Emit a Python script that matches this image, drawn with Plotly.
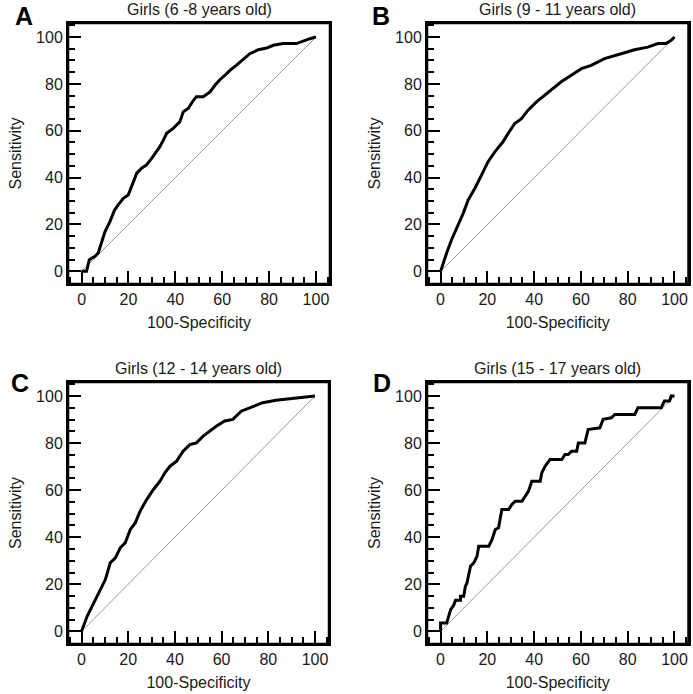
import plotly.graph_objects as go

# ---- data ----
titles = ["Girls (6 -8 years old)", "Girls (9 - 11 years old)",
          "Girls (12 - 14 years old)", "Girls (15 - 17 years old)"]
letters = ["A", "B", "C", "D"]
tick_vals = [0, 20, 40, 60, 80, 100]
tick_text = ["0", "20", "40", "60", "80", "100"]
diag = [0, 100]

fpr_a = [0, 2.1, 3.3, 5.7, 7.1, 8.5, 10, 12, 14, 15.6, 17.8, 19.9, 21.3, 23.5, 25.6, 27.7, 29.9, 32,
         33.4, 34.9, 36.3, 39.1, 41.9, 43.4, 45.5, 47.7, 49, 51.9, 54.8, 56.9, 59, 61.2, 63.3, 66.1,
         69, 71.8, 75.4, 79, 81.8, 86, 91.7, 94.6, 97.4, 100]
tpr_a = [0, 0, 5, 6.4, 7.8, 12, 17, 21, 26, 28.4, 31.2, 32.6, 36.2, 41.8, 44, 45.4, 48.2, 51,
         53.2, 56, 58.9, 61, 63.8, 68.1, 69.5, 73, 74.5, 74.5, 76.6, 79.4, 81.8, 83.7, 85.8, 88,
         90.4, 92.9, 94.6, 95.3, 96.5, 97.2, 97.2, 98.3, 99.3, 100]

fpr_b = [0, 1.1, 2.6, 4.7, 7.5, 9.7, 11.8, 14.7, 17.5, 20.3, 23.2, 26.7, 28.9, 31.7, 34.6, 37.4,
         41, 44.5, 48.1, 51.6, 55.9, 60.2, 64.4, 70.1, 77.2, 82.9, 88.6, 92.9, 96.4, 98.6, 100]
tpr_b = [0, 3.5, 7.8, 13.5, 19.9, 24.8, 30.5, 35.5, 41.1, 46.8, 51, 55.3, 58.9, 63.1, 65.2, 68.8,
         72.3, 75.2, 78, 80.9, 83.7, 86.5, 87.9, 90.8, 92.9, 94.6, 95.7, 97.2, 97.2, 98.6, 100]

fpr_c = [0, 0.7, 2.4, 4.5, 7.4, 10.2, 12.3, 14.5, 16.6, 18.7, 20.9, 23, 25.1, 27.9, 30.8, 33.6,
         35.7, 37.9, 40.7, 43.5, 46.4, 49.2, 52.1, 54.9, 57.7, 61.3, 64.8, 68.4, 73.3, 77.6, 83.3,
         90.4, 96, 100]
tpr_c = [0, 2.1, 6.4, 10.6, 16.3, 22, 29.1, 31.2, 35.5, 37.6, 43.3, 46.1, 51.1, 56, 60.3, 63.8,
         67.4, 70.2, 72.3, 76.6, 79.4, 80.1, 83, 85.1, 87.2, 89.4, 90.1, 93.6, 95.7, 97.2, 98.2,
         98.9, 99.3, 100]

fpr_d = [0, 0, 2.6, 4.3, 5.7, 6.4, 8.5, 8.5, 9.9, 10.6, 11.3, 12, 12.8, 14.2, 15.6, 16.3, 20.6,
         22, 23.4, 24.8, 26.2, 29.1, 30.5, 31.9, 34.8, 37.6, 39, 42.6, 43.3, 44.7, 46.8, 51.8,
         53.2, 54.6, 56, 58.2, 58.9, 61.7, 63.1, 68.1, 69.5, 73, 74.5, 83, 84.4, 94.3, 95.7,
         97.9, 98.6, 100]
tpr_d = [0, 3.5, 3.5, 9.2, 11.3, 13.2, 13.2, 14.9, 14.9, 19.1, 20.6, 24.8, 27.7, 29.1, 31.9,
         36.2, 36.2, 39, 43.3, 44, 51.8, 51.8, 53.9, 55.3, 55.3, 59.6, 63.8, 63.8, 67.4, 70.2,
         73, 73, 75.2, 75.2, 76.6, 76.6, 80.1, 80.1, 85.8, 86.5, 90.1, 90.8, 92.2, 92.2, 95, 95,
         97.9, 97.9, 100, 100]

curves = [(fpr_a, tpr_a), (fpr_b, tpr_b), (fpr_c, tpr_c), (fpr_d, tpr_d)]

# ---- layout geometry ----
W, H = 693, 694
boxes = [  # (left, right, top, bottom) in px
    (68, 330, 23, 284),
    (427, 688.5, 23, 284),
    (68, 329, 382, 644),
    (427, 688.5, 382, 644),
]
letter_pos = [(24, 16), (381, 16), (20, 383), (382, 383)]

fig = go.Figure()
FONT = "Liberation Sans, Arial, sans-serif"
TXT = "#1a1a1a"
layout = dict(width=W, height=H, margin=dict(l=0, r=0, t=0, b=0),
              paper_bgcolor="white", plot_bgcolor="white", showlegend=False,
              font=dict(family=FONT, color=TXT))
annotations = []
shapes = []

for i, ((fx, ty), box) in enumerate(zip(curves, boxes)):
    n = "" if i == 0 else str(i + 1)
    xa, ya = "x" + n, "y" + n
    fig.add_trace(go.Scatter(x=diag, y=diag, mode="lines", xaxis=xa, yaxis=ya,
                             line=dict(color="#9a9a9a", width=1), hoverinfo="skip"))
    fig.add_trace(go.Scatter(x=fx, y=ty, mode="lines", xaxis=xa, yaxis=ya,
                             line=dict(color="black", width=3)))
    l, r, t, b = box
    axcommon = dict(showline=True, linecolor="black", linewidth=2, mirror=True,
                    ticks="inside", ticklen=13, tickwidth=2, tickcolor="black",
                    tickvals=tick_vals, ticktext=tick_text, showgrid=False, zeroline=False,
                    tickfont=dict(size=16, color=TXT, family=FONT),
                    minor=dict(ticks="inside", ticklen=7, tickwidth=1.5, tickcolor="black", dtick=5),
                    fixedrange=True)
    layout["xaxis" + n] = dict(axcommon, domain=[l / W, r / W], range=[-5.8, 106],
                               anchor=ya,
                               title=dict(text="100-Specificity", standoff=10,
                                          font=dict(size=16, color=TXT)))
    layout["yaxis" + n] = dict(axcommon, domain=[1 - b / H, 1 - t / H], range=[-5.4, 106],
                               anchor=xa,
                               title=dict(text="Sensitivity", standoff=10,
                                          font=dict(size=16, color=TXT)))
    shapes.append(dict(type="rect", xref=xa + " domain", yref=ya + " domain",
                       x0=0, x1=1, y0=0, y1=1, line=dict(color="black", width=2.5),
                       fillcolor="rgba(0,0,0,0)", layer="above"))
    annotations.append(dict(text=titles[i], x=(l + r) / 2 / W, y=1 - (t - 3) / H,
                            xref="paper", yref="paper", xanchor="center", yanchor="bottom",
                            showarrow=False, font=dict(size=16, color=TXT)))
    lx, ly = letter_pos[i]
    annotations.append(dict(text="<b>" + letters[i] + "</b>", x=lx / W, y=1 - ly / H,
                            xref="paper", yref="paper", xanchor="center", yanchor="middle",
                            showarrow=False, font=dict(size=25, color="black")))

layout["annotations"] = annotations
layout["shapes"] = shapes
fig.update_layout(**layout)
fig.write_html("out.html", config={"displayModeBar": False},
               post_script="document.body.style.margin='0';document.body.style.padding='0';")
